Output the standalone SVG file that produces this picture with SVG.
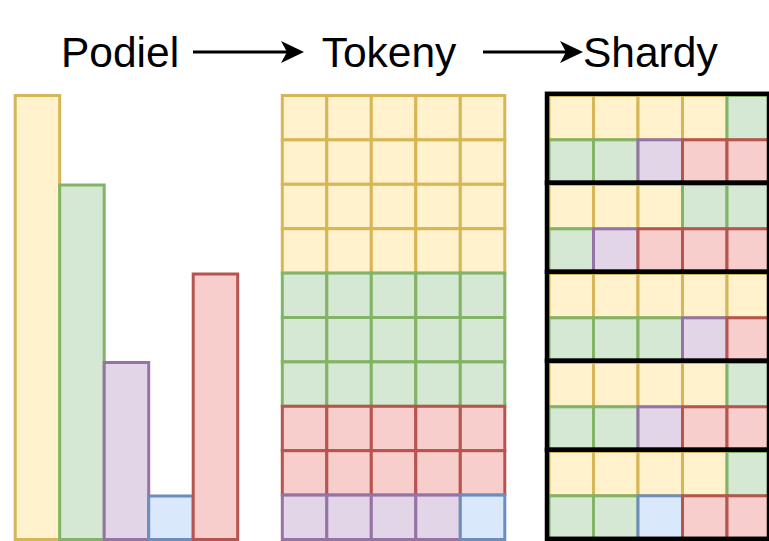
<svg xmlns="http://www.w3.org/2000/svg" width="769" height="541" viewBox="0 0 769 541">
<style>
.t{font-family:"Liberation Sans",Arial,sans-serif;font-size:42.5px;fill:#000}
rect{stroke-width:3}
.y{fill:#fff2cc;stroke:#d6b656}
.g{fill:#d5e8d4;stroke:#82b366}
.p{fill:#e1d5e7;stroke:#9673a6}
.b{fill:#dae8fc;stroke:#6c8ebf}
.r{fill:#f8cecc;stroke:#b85450}
.sh{fill:none;stroke:#000;stroke-width:4.5}
.c{stroke:#000;stroke-width:3;fill:none}
</style>
<defs>
<marker id="ah" markerUnits="userSpaceOnUse" viewBox="0 0 23 22" refX="13" refY="11" markerWidth="23" markerHeight="22" orient="auto">
<path d="M0,0 L23,11 L0,22 L6,11 Z" fill="#000"/>
</marker>
</defs>
<rect x="0" y="0" width="769" height="541" fill="#fff" stroke="none"/>

<g id="label-podiel"><text class="t" x="61" y="67">Podiel</text></g>
<g id="label-tokeny"><text class="t" x="321.7" y="67">Tokeny</text></g>
<g id="label-shardy"><text class="t" x="583" y="67">Shardy</text></g>

<g id="connectors">
<line class="c" x1="193" y1="52" x2="294" y2="52" marker-end="url(#ah)"/>
<line class="c" x1="483" y1="52" x2="573" y2="52" marker-end="url(#ah)"/>
</g>

<g id="podiel">
<rect class="y" x="15.2" y="95.5" width="44.5" height="444"/>
<rect class="g" x="59.7" y="185" width="44.5" height="354.5"/>
<rect class="p" x="104.2" y="362.5" width="44.5" height="177"/>
<rect class="b" x="148.7" y="496" width="44.5" height="43.5"/>
<rect class="r" x="193.2" y="274" width="44.5" height="265.5"/>
</g>

<g id="tokeny">
<g transform="translate(0,95.5)"><rect class="y" x="282.3" y="0" width="44.5" height="44.4"/><rect class="y" x="326.8" y="0" width="44.5" height="44.4"/><rect class="y" x="371.3" y="0" width="44.5" height="44.4"/><rect class="y" x="415.8" y="0" width="44.5" height="44.4"/><rect class="y" x="460.3" y="0" width="44.5" height="44.4"/></g>
<g transform="translate(0,139.9)"><rect class="y" x="282.3" y="0" width="44.5" height="44.4"/><rect class="y" x="326.8" y="0" width="44.5" height="44.4"/><rect class="y" x="371.3" y="0" width="44.5" height="44.4"/><rect class="y" x="415.8" y="0" width="44.5" height="44.4"/><rect class="y" x="460.3" y="0" width="44.5" height="44.4"/></g>
<g transform="translate(0,184.3)"><rect class="y" x="282.3" y="0" width="44.5" height="44.4"/><rect class="y" x="326.8" y="0" width="44.5" height="44.4"/><rect class="y" x="371.3" y="0" width="44.5" height="44.4"/><rect class="y" x="415.8" y="0" width="44.5" height="44.4"/><rect class="y" x="460.3" y="0" width="44.5" height="44.4"/></g>
<g transform="translate(0,228.7)"><rect class="y" x="282.3" y="0" width="44.5" height="44.4"/><rect class="y" x="326.8" y="0" width="44.5" height="44.4"/><rect class="y" x="371.3" y="0" width="44.5" height="44.4"/><rect class="y" x="415.8" y="0" width="44.5" height="44.4"/><rect class="y" x="460.3" y="0" width="44.5" height="44.4"/></g>
<g transform="translate(0,273.1)"><rect class="g" x="282.3" y="0" width="44.5" height="44.4"/><rect class="g" x="326.8" y="0" width="44.5" height="44.4"/><rect class="g" x="371.3" y="0" width="44.5" height="44.4"/><rect class="g" x="415.8" y="0" width="44.5" height="44.4"/><rect class="g" x="460.3" y="0" width="44.5" height="44.4"/></g>
<g transform="translate(0,317.5)"><rect class="g" x="282.3" y="0" width="44.5" height="44.4"/><rect class="g" x="326.8" y="0" width="44.5" height="44.4"/><rect class="g" x="371.3" y="0" width="44.5" height="44.4"/><rect class="g" x="415.8" y="0" width="44.5" height="44.4"/><rect class="g" x="460.3" y="0" width="44.5" height="44.4"/></g>
<g transform="translate(0,361.9)"><rect class="g" x="282.3" y="0" width="44.5" height="44.4"/><rect class="g" x="326.8" y="0" width="44.5" height="44.4"/><rect class="g" x="371.3" y="0" width="44.5" height="44.4"/><rect class="g" x="415.8" y="0" width="44.5" height="44.4"/><rect class="g" x="460.3" y="0" width="44.5" height="44.4"/></g>
<g transform="translate(0,406.3)"><rect class="r" x="282.3" y="0" width="44.5" height="44.4"/><rect class="r" x="326.8" y="0" width="44.5" height="44.4"/><rect class="r" x="371.3" y="0" width="44.5" height="44.4"/><rect class="r" x="415.8" y="0" width="44.5" height="44.4"/><rect class="r" x="460.3" y="0" width="44.5" height="44.4"/></g>
<g transform="translate(0,450.7)"><rect class="r" x="282.3" y="0" width="44.5" height="44.4"/><rect class="r" x="326.8" y="0" width="44.5" height="44.4"/><rect class="r" x="371.3" y="0" width="44.5" height="44.4"/><rect class="r" x="415.8" y="0" width="44.5" height="44.4"/><rect class="r" x="460.3" y="0" width="44.5" height="44.4"/></g>
<g transform="translate(0,495.1)"><rect class="p" x="282.3" y="0" width="44.5" height="44.4"/><rect class="p" x="326.8" y="0" width="44.5" height="44.4"/><rect class="p" x="371.3" y="0" width="44.5" height="44.4"/><rect class="p" x="415.8" y="0" width="44.5" height="44.4"/><rect class="b" x="460.3" y="0" width="44.5" height="44.4"/></g>
</g>

<g id="shardy">
<g id="shard1" transform="translate(0,93.8)">
<rect class="y" x="549" y="1.6" width="44.5" height="44.4"/><rect class="y" x="593.5" y="1.6" width="44.5" height="44.4"/><rect class="y" x="638" y="1.6" width="44.5" height="44.4"/><rect class="y" x="682.5" y="1.6" width="44.5" height="44.4"/><rect class="g" x="727" y="1.6" width="44.5" height="44.4"/>
<rect class="g" x="549" y="46" width="44.5" height="44.4"/><rect class="g" x="593.5" y="46" width="44.5" height="44.4"/><rect class="p" x="638" y="46" width="44.5" height="44.4"/><rect class="r" x="682.5" y="46" width="44.5" height="44.4"/><rect class="r" x="727" y="46" width="44.5" height="44.4"/>
<rect class="sh" x="547" y="0" width="222" height="89"/>
</g>
<g id="shard2" transform="translate(0,182.8)">
<rect class="y" x="549" y="1.6" width="44.5" height="44.4"/><rect class="y" x="593.5" y="1.6" width="44.5" height="44.4"/><rect class="y" x="638" y="1.6" width="44.5" height="44.4"/><rect class="g" x="682.5" y="1.6" width="44.5" height="44.4"/><rect class="g" x="727" y="1.6" width="44.5" height="44.4"/>
<rect class="g" x="549" y="46" width="44.5" height="44.4"/><rect class="p" x="593.5" y="46" width="44.5" height="44.4"/><rect class="r" x="638" y="46" width="44.5" height="44.4"/><rect class="r" x="682.5" y="46" width="44.5" height="44.4"/><rect class="r" x="727" y="46" width="44.5" height="44.4"/>
<rect class="sh" x="547" y="0" width="222" height="89"/>
</g>
<g id="shard3" transform="translate(0,271.8)">
<rect class="y" x="549" y="1.6" width="44.5" height="44.4"/><rect class="y" x="593.5" y="1.6" width="44.5" height="44.4"/><rect class="y" x="638" y="1.6" width="44.5" height="44.4"/><rect class="y" x="682.5" y="1.6" width="44.5" height="44.4"/><rect class="y" x="727" y="1.6" width="44.5" height="44.4"/>
<rect class="g" x="549" y="46" width="44.5" height="44.4"/><rect class="g" x="593.5" y="46" width="44.5" height="44.4"/><rect class="g" x="638" y="46" width="44.5" height="44.4"/><rect class="p" x="682.5" y="46" width="44.5" height="44.4"/><rect class="r" x="727" y="46" width="44.5" height="44.4"/>
<rect class="sh" x="547" y="0" width="222" height="89"/>
</g>
<g id="shard4" transform="translate(0,360.8)">
<rect class="y" x="549" y="1.6" width="44.5" height="44.4"/><rect class="y" x="593.5" y="1.6" width="44.5" height="44.4"/><rect class="y" x="638" y="1.6" width="44.5" height="44.4"/><rect class="y" x="682.5" y="1.6" width="44.5" height="44.4"/><rect class="g" x="727" y="1.6" width="44.5" height="44.4"/>
<rect class="g" x="549" y="46" width="44.5" height="44.4"/><rect class="g" x="593.5" y="46" width="44.5" height="44.4"/><rect class="p" x="638" y="46" width="44.5" height="44.4"/><rect class="r" x="682.5" y="46" width="44.5" height="44.4"/><rect class="r" x="727" y="46" width="44.5" height="44.4"/>
<rect class="sh" x="547" y="0" width="222" height="89"/>
</g>
<g id="shard5" transform="translate(0,449.8)">
<rect class="y" x="549" y="1.6" width="44.5" height="44.4"/><rect class="y" x="593.5" y="1.6" width="44.5" height="44.4"/><rect class="y" x="638" y="1.6" width="44.5" height="44.4"/><rect class="y" x="682.5" y="1.6" width="44.5" height="44.4"/><rect class="g" x="727" y="1.6" width="44.5" height="44.4"/>
<rect class="g" x="549" y="46" width="44.5" height="44.4"/><rect class="g" x="593.5" y="46" width="44.5" height="44.4"/><rect class="b" x="638" y="46" width="44.5" height="44.4"/><rect class="r" x="682.5" y="46" width="44.5" height="44.4"/><rect class="r" x="727" y="46" width="44.5" height="44.4"/>
<rect class="sh" x="547" y="0" width="222" height="89"/>
</g>
</g>
</svg>
